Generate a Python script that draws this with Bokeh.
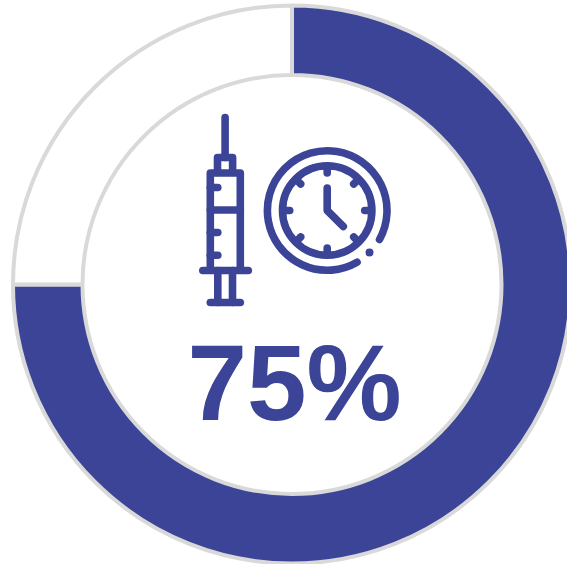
import numpy as np
from bokeh.plotting import figure
from bokeh.models import Range1d
from bokeh.core.properties import value
from bokeh.embed import file_html
from bokeh.resources import INLINE

# --- data
labels = ["Vaccinated", "Remaining"]
shares = [75, 25]
slice_colors = ["#3b4496", "#ffffff"]
center_label = "75%"

BLUE = "#3b4496"
GREY = "#d9d9d9"
W, H = 567, 564
CX, CY = 291.5, 284
R_OUT, R_IN = 279, 209.5

def Y(py):
    return 564 - py

p = figure(width=W, height=H, output_backend="svg", toolbar_location=None,
           x_range=Range1d(0, W), y_range=Range1d(0, H),
           min_border=0, outline_line_color=None, background_fill_color="white",
           border_fill_color="white")
p.axis.visible = False
p.grid.visible = False

# --- donut, clockwise from 12 o'clock
ends = np.cumsum(shares) / sum(shares)
starts = np.concatenate([[0], ends[:-1]])
p.annular_wedge(x=[CX] * len(shares), y=[Y(CY)] * len(shares),
                inner_radius=R_IN, outer_radius=R_OUT,
                start_angle=list(np.pi / 2 - 2 * np.pi * ends),
                end_angle=list(np.pi / 2 - 2 * np.pi * starts),
                fill_color=slice_colors, line_color=GREY, line_width=4)

# --- icon: syringe
LW = 7.6
def seg(xs, ys, w=LW):
    p.line(xs, [Y(v) for v in ys], line_color=BLUE, line_width=w,
           line_cap="round", line_join="round")

seg([224.6, 224.6], [117, 157])
seg([217, 217, 232.1, 232.1], [172, 157, 157, 172])
seg([209.8, 209.8, 239.8, 239.8], [269, 172.5, 172.5, 269])
seg([209.8, 239.8], [209.5, 209.5])
for ty in (187, 232, 254.7):
    seg([209.8, 217.3], [ty, ty])
seg([202.3, 247.8], [270, 270])
seg([217.3, 217.3], [270, 302])
seg([232, 232], [270, 302])
seg([209.8, 239.8], [302, 302])

# --- icon: clock
KX, KY = 326.7, 210
p.circle(x=[KX], y=[Y(KY)], radius=44.7, fill_color=None, line_color=BLUE, line_width=LW)
p.arc(x=[KX], y=[Y(KY)], radius=59.8, start_angle=np.deg2rad(-29), end_angle=np.deg2rad(-60),
      direction="anticlock", line_color=BLUE, line_width=LW, line_cap="round")
p.scatter(x=[369], y=[Y(252)], size=8, marker="circle", fill_color=BLUE, line_color=None)
for deg in range(0, 360, 45):
    a = np.deg2rad(deg)
    r0, r1 = 44, 37.5
    seg([KX + r0 * np.cos(a), KX + r1 * np.cos(a)], [KY + r0 * np.sin(a), KY + r1 * np.sin(a)])
seg([KX, KX, 342.8], [187.5, 210, 226])

# --- centre label
p.text(x=[294], y=[Y(382.5)], text=[center_label], text_font=value("Liberation Sans"),
       text_font_style="bold", text_font_size="107px", text_color=BLUE,
       text_align="center", text_baseline="alphabetic")

open("out.html", "w").write(file_html(p, INLINE))
